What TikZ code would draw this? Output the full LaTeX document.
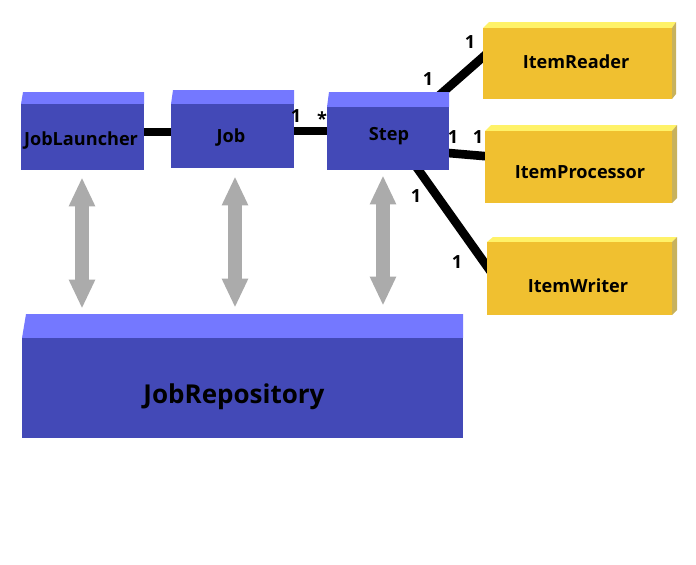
\documentclass[tikz,border=0pt]{standalone}
\usepackage{fontspec}
\setmainfont{Open Sans}
\usetikzlibrary{fit,arrows.meta,backgrounds}
\definecolor{blueface}{RGB}{67,73,183}
\definecolor{bluetop}{RGB}{116,120,255}
\definecolor{yellowface}{RGB}{240,192,48}
\definecolor{yellowtop}{RGB}{255,242,104}
\definecolor{yellowside}{RGB}{200,178,92}
\definecolor{arrowgray}{RGB}{171,171,171}
\begin{document}
\begin{tikzpicture}[x=0.75pt,y=-0.75pt,
  front/.style={fill=#1, draw=none, inner sep=0pt},
  boxtext/.style={font=\bfseries\fontsize{13.6}{16}\selectfont, anchor=base, inner sep=0pt},
  mult/.style={font=\bfseries\fontsize{13.6}{16}\selectfont, anchor=base, inner sep=0pt},
  link/.style={line width=6.5pt},
  dbl/.style={draw=arrowgray, line width=11pt,
    {Triangle[width=20pt,length=21pt,line width=0pt]}-{Triangle[width=20pt,length=21pt,line width=0pt]}}]
  \useasboundingbox (0,0) rectangle (696,564);

  % blue boxes
  \fill[bluetop] (21,104) -- (23,92) -- (144,92) -- (144,104) -- cycle;
  \node[front=blueface, fit={(21,104) (144,170)}] (launcher) {};
  \fill[bluetop] (171,104) -- (173,90) -- (294,90) -- (294,104) -- cycle;
  \node[front=blueface, fit={(171,104) (294,168)}] (job) {};
  \fill[bluetop] (327,107) -- (329,92) -- (449,92) -- (449,107) -- cycle;
  \node[front=blueface, fit={(327,107) (449,170)}] (step) {};
  \fill[bluetop] (22,338) -- (26,314) -- (463,314) -- (463,338) -- cycle;
  \node[front=blueface, fit={(22,338) (463,438)}] (repo) {};

  % yellow boxes
  \fill[yellowtop] (483,28) -- (489,22) -- (676,22) -- (672,28) -- cycle;
  \fill[yellowside] (672,28) -- (676,22) -- (676,94) -- (672,99) -- cycle;
  \node[front=yellowface, fit={(483,28) (672,99)}] (reader) {};
  \fill[yellowtop] (485,131) -- (491,125) -- (677,125) -- (672,131) -- cycle;
  \fill[yellowside] (672,131) -- (677,125) -- (677,198) -- (672,203) -- cycle;
  \node[front=yellowface, fit={(485,131) (672,203)}] (processor) {};
  \fill[yellowtop] (487,242) -- (493,237) -- (677,237) -- (672,242) -- cycle;
  \fill[yellowside] (672,242) -- (677,237) -- (677,310) -- (672,315) -- cycle;
  \node[front=yellowface, fit={(487,242) (672,315)}] (writer) {};

  % box texts
  \node[boxtext] (launcher-t) at (81,145) {JobLauncher};
  \node[boxtext] (job-t) at (231,142) {Job};
  \node[boxtext] (step-t) at (389,140) {Step};
  \node[boxtext] (reader-t) at (576,68) {ItemReader};
  \node[boxtext] (processor-t) at (580,178) {ItemProcessor};
  \node[boxtext] (writer-t) at (578,292) {ItemWriter};
  \node[boxtext, font=\bfseries\fontsize{19.5}{23}\selectfont] (repo-t) at (234,403) {JobRepository};

  % links
  \begin{scope}[on background layer]
    \draw[link] ([shift={(0,-5)}]launcher.center) -- ([shift={(0,-4)}]job.center);
    \draw[link] ([shift={(0,-5)}]job.center) -- ([shift={(0,-7.5)}]step.center);
    \draw[link] ([shift={(41.7,-34.7)}]step.center) -- ([shift={(-82.2,-17.3)}]reader.center);
    \draw[link] ([shift={(52,13.8)}]step.center) -- ([shift={(-83.5,-10)}]processor.center);
    \draw[link] ([shift={(22,19.5)}]step.center) -- ([shift={(-83.5,0.5)}]writer.center);
  \end{scope}

  % multiplicities
  \node[mult] (m-job) at (296,122) {1};
  \node[mult] (m-step) at (322,125) {*};
  \node[mult] (m-sr) at (428,85) {1};
  \node[mult] (m-r) at (470,48) {1};
  \node[mult] (m-sp) at (453,143) {1};
  \node[mult] (m-p) at (478,143) {1};
  \node[mult] (m-sw) at (416,202) {1};
  \node[mult] (m-w) at (457,268) {1};

  % repository arrows
  \draw[dbl] ([shift={(-0.5,8)}]launcher.south) -- ([shift={(-160.5,-30)}]repo.north);
  \draw[dbl] ([shift={(2.5,9)}]job.south) -- ([shift={(-7.5,-31)}]repo.north);
  \draw[dbl] ([shift={(-5,6)}]step.south) -- ([shift={(140.5,-33)}]repo.north);
\end{tikzpicture}
\end{document}
